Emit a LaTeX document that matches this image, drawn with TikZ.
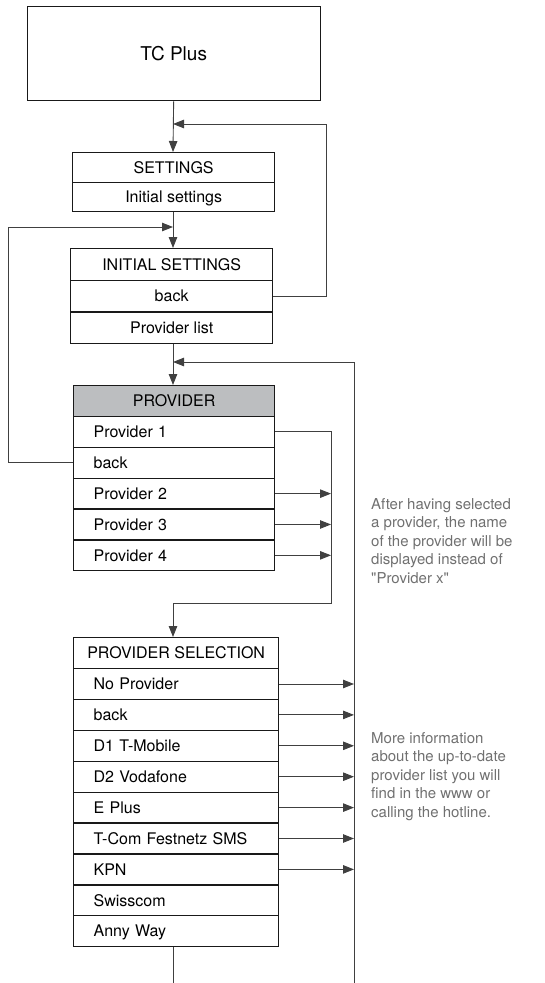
\documentclass[tikz,border=0pt]{standalone}
\usepackage{fontspec}
\setmainfont{TeX Gyre Heros}
\newfontfamily\notefont{TeX Gyre Heros}
\usetikzlibrary{arrows.meta}
\definecolor{provgray}{HTML}{BCBEC0}
\definecolor{notegray}{HTML}{707070}
\tikzset{
  box/.style={draw=black!90, line width=1.3pt, inner ysep=0pt, text height=11.5pt, text depth=0pt, font=\fontsize{16}{18}\selectfont, minimum height=31pt},
  hdr/.style={box, minimum width=#1, inner xsep=0pt},
  item/.style={box, text width=#1, inner xsep=20pt, align=left},
  line/.style={draw=black!75, line width=0.9pt},
  arr/.style={line, -{Triangle[length=11pt,width=8.5pt]}},
  note/.style={text=notegray, font=\notefont\fontsize{15}{18.5}\selectfont, align=left, inner sep=0pt, anchor=north west}
}
\begin{document}
\begin{tikzpicture}[x=1pt,y=1pt,yscale=-1,xscale=1]
    \useasboundingbox (0,0) rectangle (544,983);
    % turning points of the connectors
    \coordinate (spine) at (173,0);
    \coordinate (j1) at (173,124);
    \coordinate (r1) at (326,124);
    \coordinate (j2) at (173,227);
    \coordinate (l2) at (8,227);
    \coordinate (j3) at (173,362);
    \coordinate (r3) at (354,362);
    \coordinate (r3b) at (354,983);
    \coordinate (r4) at (331,603);
    \coordinate (endb) at (173,983);
    % Top Box
    \draw (26.5,6) node [anchor=north west][box, minimum width=293pt, minimum height=94pt, text height=13.7pt, font=\fontsize{19}{22}\selectfont] (tc) {TC Plus};
    % Settings
    \draw (72,152) node [anchor=north west][hdr=202pt, minimum height=29.5pt] (set) {SETTINGS};
    \draw (72,181.5) node [anchor=north west][hdr=202pt, minimum height=29.5pt] (setinit) {Initial settings};
    % Initial Settings
    \draw (70,248) node [anchor=north west][hdr=202pt, minimum height=31.7pt] (init) {INITIAL SETTINGS};
    \draw (70,279.7) node [anchor=north west][hdr=202pt, minimum height=31.7pt] (initback) {back};
    \draw (70,311.4) node [anchor=north west][hdr=202pt, minimum height=31.7pt] (initlist) {Provider list};
    % Provider
    \draw (73,385) node [anchor=north west][hdr=201pt, minimum height=30.85pt, fill=provgray] (prov) {PROVIDER};
    \draw (73,415.85) node [anchor=north west][item=161pt, minimum height=30.85pt] (p1) {Provider 1};
    \draw (73,446.7) node [anchor=north west][item=161pt, minimum height=30.85pt] (pback) {back};
    \draw (73,477.55) node [anchor=north west][item=161pt, minimum height=30.85pt] (p2) {Provider 2};
    \draw (73,508.4) node [anchor=north west][item=161pt, minimum height=30.85pt] (p3) {Provider 3};
    \draw (73,539.25) node [anchor=north west][item=161pt, minimum height=30.85pt] (p4) {Provider 4};
    % Provider Selection
    \draw (73,637) node [anchor=north west][hdr=205pt, minimum height=30.9pt] (sel) {PROVIDER SELECTION};
    \draw (73,667.9) node [anchor=north west][item=165pt, minimum height=30.9pt] (s1) {No Provider};
    \draw (73,698.8) node [anchor=north west][item=165pt, minimum height=30.9pt] (s2) {back};
    \draw (73,729.7) node [anchor=north west][item=165pt, minimum height=30.9pt] (s3) {D1 T-Mobile};
    \draw (73,760.6) node [anchor=north west][item=165pt, minimum height=30.9pt] (s4) {D2 Vodafone};
    \draw (73,791.5) node [anchor=north west][item=165pt, minimum height=30.9pt] (s5) {E Plus};
    \draw (73,822.4) node [anchor=north west][item=165pt, minimum height=30.9pt] (s6) {T-Com Festnetz SMS};
    \draw (73,853.3) node [anchor=north west][item=165pt, minimum height=30.9pt] (s7) {KPN};
    \draw (73,884.2) node [anchor=north west][item=165pt, minimum height=30.9pt] (s8) {Swisscom};
    \draw (73,915.1) node [anchor=north west][item=165pt, minimum height=30.9pt] (s9) {Anny Way};
    % Text Node
    \draw (371,498) node [note] (note1) {After having selected\\a provider, the name\\of the provider will be\\displayed instead of\\"Provider x"};
    % Text Node
    \draw (371,732) node [note] (note2) {More information\\about the up-to-date\\provider list you will\\find in the www or\\calling the hotline.};
    % main flow
    \draw[arr] (tc.south) -- (spine |- set.north);
    \draw[arr] (spine |- setinit.south) -- (spine |- init.north);
    \draw[arr] (spine |- initlist.south) -- (spine |- prov.north);
    \draw[arr] (p1.east) -| (r4) -| (spine |- sel.north);
    % back loops
    \draw[arr] (initback.east) -| (r1) -- (j1);
    \draw[arr] (pback.west) -| (l2) -- (j2);
    \draw[arr] (r3b) -- (r3) -- (j3);
    % provider choices
    \draw[arr] (p2.east) -- (p2.east -| r4);
    \draw[arr] (p3.east) -- (p3.east -| r4);
    \draw[arr] (p4.east) -- (p4.east -| r4);
    % selection choices
    \draw[arr] (s1.east) -- (s1.east -| r3);
    \draw[arr] (s2.east) -- (s2.east -| r3);
    \draw[arr] (s3.east) -- (s3.east -| r3);
    \draw[arr] (s4.east) -- (s4.east -| r3);
    \draw[arr] (s5.east) -- (s5.east -| r3);
    \draw[arr] (s6.east) -- (s6.east -| r3);
    \draw[arr] (s7.east) -- (s7.east -| r3);
    \draw[line] (spine |- s9.south) -- (endb);
\end{tikzpicture}
\end{document}
